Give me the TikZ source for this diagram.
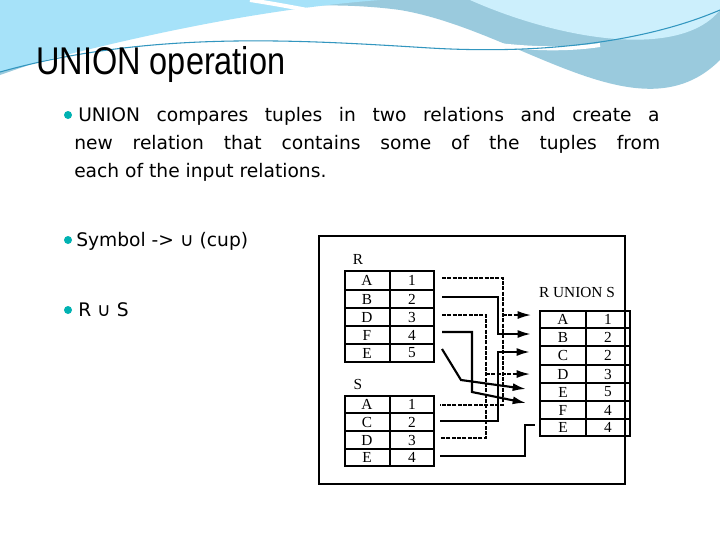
\documentclass[tikz,border=0pt]{standalone}
\usepackage{fontspec}
\setmainfont{DejaVu Sans}
\newfontfamily\titlef{Liberation Sans}
\newfontfamily\tabf{Liberation Serif}
\usetikzlibrary{arrows.meta}
\begin{document}
\begin{tikzpicture}[x=0.75pt,y=-0.75pt,
  cellt/.style={font=\tabf\fontsize{11.5}{11.5}\selectfont,inner sep=0pt},
  sol/.style={line width=1.6pt},
  dsh/.style={line width=1.2pt,dash pattern=on 3pt off 1pt},
  tip/.style={-{Latex[length=10pt,width=6pt]}},
  bul/.style={fill=teal!60!cyan,inner sep=0pt}]
\useasboundingbox (0,0) rectangle (720,540);
\fill[white] (0,0) rectangle (720,540);
% header swoosh
\fill[cyan!40!teal!45] (0,0) -- (720,0) -- (720,60) .. controls (640,140) and (520,30) .. (400,10) .. controls (250,-10) and (100,40) .. (0,75) -- cycle;
\fill[cyan!35] (0,0) -- (380,0) .. controls (250,10) and (120,40) .. (0,72) -- cycle;
\fill[cyan!20!white] (470,0) -- (720,0) -- (720,10) .. controls (680,60) and (560,40) .. (470,0) -- cycle;
\draw[white,line width=3pt] (250,0) .. controls (380,20) and (500,60) .. (600,45);
\draw[cyan!50!teal,line width=0.8pt] (0,72) .. controls (150,30) and (300,40) .. (430,48) .. controls (550,55) and (650,40) .. (720,10);
\node[anchor=west,inner sep=0pt,font=\titlef\fontsize{29}{29}\selectfont] (title) at (36,64) {\scalebox{0.84}[1]{UNION operation}};
% text
\node[bul,circle,minimum size=6pt] (b1) at (68,115) {};
\node[anchor=base west,inner sep=0pt,font=\fontsize{14}{14}\selectfont] (l1) at (78,121) {\makebox[436pt][s]{UNION compares tuples in two relations and create a}};
\node[anchor=base west,inner sep=0pt,font=\fontsize{14}{14}\selectfont] (l2) at (74,149) {\makebox[439.5pt][s]{new relation that contains some of the tuples from}};
\node[anchor=base west,inner sep=0pt,font=\fontsize{14}{14}\selectfont] (l3) at (74,177) {each of the input relations.};
\node[bul,circle,minimum size=6pt] (b2) at (68,240) {};
\node[anchor=base west,inner sep=0pt,font=\fontsize{14}{14}\selectfont] (l4) at (76,246) {Symbol -> ∪ (cup)};
\node[bul,circle,minimum size=6pt] (b3) at (68,310) {};
\node[anchor=base west,inner sep=0pt,font=\fontsize{14}{14}\selectfont] (l5) at (78,316) {R ∪ S};
% frame
\draw[line width=2pt] (319,236) rectangle (625,484);
% tables
\node[cellt] (rl) at (358,259) {R};
\node[cellt] (sl) at (358,384) {S};
\node[cellt] (ul) at (577,292) {R UNION S};
\foreach \a/\b [count=\i] in {A/1,B/2,D/3,F/4,E/5}{
  \pgfmathsetmacro\yt{{271,290,308,326,344,362}[\i-1]}
  \pgfmathsetmacro\yb{{271,290,308,326,344,362}[\i]}
  \draw[line width=1.1pt] (345,\yt) rectangle (390,\yb) (390,\yt) rectangle (434,\yb);
  \node[cellt] (ra\i) at (367,{(\yt+\yb)/2}) {\a};
  \node[cellt] (rb\i) at (412,{(\yt+\yb)/2}) {\b};}
\foreach \a/\b [count=\i] in {A/1,C/2,D/3,E/4}{
  \pgfmathsetmacro\yt{{396,413,431,449,466}[\i-1]}
  \pgfmathsetmacro\yb{{396,413,431,449,466}[\i]}
  \draw[line width=1.1pt] (345,\yt) rectangle (390,\yb) (390,\yt) rectangle (434,\yb);
  \node[cellt] (sa\i) at (367,{(\yt+\yb)/2}) {\a};
  \node[cellt] (sb\i) at (412,{(\yt+\yb)/2}) {\b};}
\foreach \a/\b [count=\i] in {A/1,B/2,C/2,D/3,E/5,F/4,E/4}{
  \pgfmathsetmacro\yt{{311,328,346,365,383,401,419,436}[\i-1]}
  \pgfmathsetmacro\yb{{311,328,346,365,383,401,419,436}[\i]}
  \draw[line width=1.1pt] (540,\yt) rectangle (586,\yb) (586,\yt) rectangle (630,\yb);
  \node[cellt] (ua\i) at (563,{(\yt+\yb)/2}) {\a};
  \node[cellt] (ub\i) at (608,{(\yt+\yb)/2}) {\b};}
% connectors
\coordinate (t1) at (531,315); \coordinate (t2) at (531,334); \coordinate (t3) at (530,352);
\coordinate (t4) at (530,374); \coordinate (t5) at (526,389); \coordinate (t6) at (526,403); \coordinate (t7) at (535,425);
\draw[dsh] (442,278) -- (503,278) -- (503,405) -- (440,405);
\draw[dsh,tip] (503,315) -- (t1);
\draw[sol,tip] (442,297) -- (498,297) -- (498,334) -- (t2);
\draw[sol,tip] (440,421) -- (498,421) -- (498,352) -- (t3);
\draw[dsh] (442,315) -- (486,315) -- (486,438) -- (440,438);
\draw[dsh,tip] (486,374) -- (t4);
\draw[sol,tip] (442,349) -- (461,380) -- (t5);
\draw[sol,tip] (442,332) -- (472,332) -- (472,392) -- (t6);
\draw[sol] (440,456) -- (525,456) -- (525,425) -- (t7);
\end{tikzpicture}
\end{document}
